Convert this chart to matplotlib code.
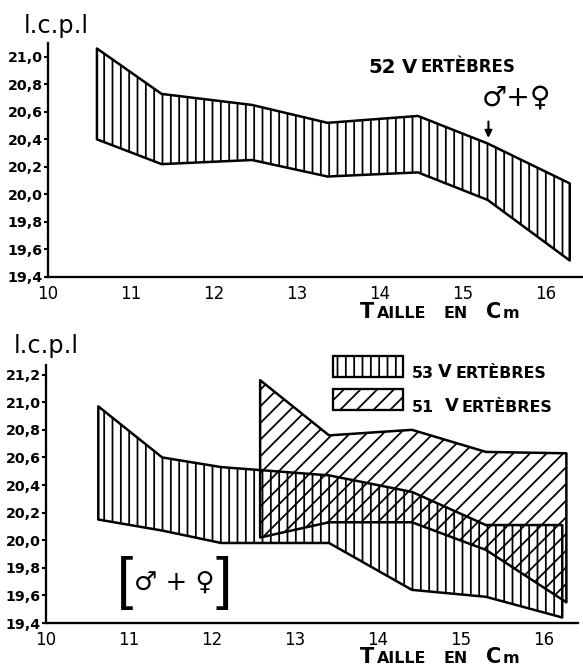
import matplotlib
matplotlib.use("Agg")
import matplotlib.pyplot as plt
from matplotlib.patches import Rectangle

# =====================================================
# Données
# =====================================================
TAILLE_52 = [10.59, 11.37, 12.46, 13.37, 14.46, 15.30, 16.29]
LCPL_52_MAX = [21.06, 20.73, 20.65, 20.52, 20.57, 20.37, 20.08]
LCPL_52_MIN = [20.40, 20.22, 20.25, 20.13, 20.16, 19.96, 19.52]

TAILLE_53 = [10.63, 11.40, 12.11, 13.41, 14.41, 15.30, 16.22]
LCPL_53_MAX = [20.97, 20.60, 20.53, 20.47, 20.35, 20.11, 20.11]
LCPL_53_MIN = [20.15, 20.07, 19.98, 19.98, 19.64, 19.59, 19.44]

TAILLE_51 = [12.58, 13.41, 14.41, 15.30, 16.27]
LCPL_51_MAX = [21.16, 20.76, 20.80, 20.64, 20.63]
LCPL_51_MIN = [20.02, 20.13, 20.13, 19.93, 19.55]

X_TICKS = [10, 11, 12, 13, 14, 15, 16]
X_LABELS = ["10", "11", "12", "13", "14", "15", "16"]

Y_TICKS_HAUT = [19.4, 19.6, 19.8, 20.0, 20.2, 20.4, 20.6, 20.8, 21.0]
Y_LABELS_HAUT = ["19,4", "19,6", "19,8", "20,0", "20,2", "20,4", "20,6", "20,8", "21,0"]
Y_TICKS_BAS = [19.4, 19.6, 19.8, 20.0, 20.2, 20.4, 20.6, 20.8, 21.0, 21.2]
Y_LABELS_BAS = ["19,4", "19,6", "19,8", "20,0", "20,2", "20,4", "20,6", "20,8", "21,0", "21,2"]

# =====================================================
# Mise en page (pixels de l'image 583x667)
# =====================================================
W, H = 583, 667
DPI = 150

plt.rcParams["font.family"] = ["DejaVu Sans"]
plt.rcParams["hatch.linewidth"] = 0.85


def fx(x):
    return x / W


def fy(y):
    return 1 - y / H


def petites_caps(ax, x, y, morceaux, gros, petit):
    # morceaux: (texte, majuscule, ecart en points avant)
    prev = None
    prev_size = None
    for texte, maj, ecart in morceaux:
        size = gros if maj else petit
        if prev is None:
            prev = ax.annotate(texte, xy=(fx(x), fy(y)), xycoords="figure fraction",
                               fontsize=size, fontweight="bold", ha="left",
                               va="baseline", annotation_clip=False)
        else:
            dy = 0.236 * (prev_size - size)
            prev = ax.annotate(texte, xy=(1, 0), xycoords=prev,
                               xytext=(ecart, dy), textcoords="offset points",
                               fontsize=size, fontweight="bold", ha="left",
                               va="bottom", annotation_clip=False)
        prev_size = size


def style_axe(ax, xlim, ylim, yticks, ylabels):
    ax.set_xlim(*xlim)
    ax.set_ylim(*ylim)
    ax.spines["top"].set_visible(False)
    ax.spines["right"].set_visible(False)
    ax.spines["left"].set_linewidth(1.1)
    ax.spines["bottom"].set_linewidth(1.1)
    ax.set_xticks(X_TICKS, X_LABELS)
    ax.set_yticks(yticks, ylabels)
    ax.tick_params(axis="x", length=0, pad=4, labelsize=8)
    ax.tick_params(axis="y", length=2, width=1, pad=0.5, labelsize=6.8)
    for lab in ax.get_yticklabels():
        lab.set_fontweight("bold")


fig = plt.figure(figsize=(W / DPI, H / DPI), dpi=DPI)

# =====================================================
# Graphique du haut : 52 vertèbres
# =====================================================
ax1 = fig.add_axes([fx(48), fy(277), 535 / W, 234 / H])
style_axe(ax1, (10, 16.45), (19.4, 21.10), Y_TICKS_HAUT, Y_LABELS_HAUT)

ax1.fill_between(TAILLE_52, LCPL_52_MIN, LCPL_52_MAX, facecolor="none",
                 edgecolor="black", hatch="|||", linewidth=1.2)

ax1.annotate("", xy=(15.31, 20.38), xytext=(15.31, 20.56),
             arrowprops=dict(arrowstyle="-|>", color="black", lw=1.0,
                             mutation_scale=7))

fig.text(fx(24), fy(33), "l.c.p.l", fontsize=11.5, ha="left", va="baseline")
petites_caps(ax1, 368, 73, [("52", True, 0), ("V", True, 3), ("ERTÈBRES", False, 1.5)], 9.5, 8)
fig.text(fx(517), fy(97), "♂+♀", fontsize=13.5, ha="center", va="center")
petites_caps(ax1, 360, 318, [("T", True, 0), ("AILLE", False, 1.5), ("EN", False, 8),
                             ("C", True, 9), ("m", False, 0.5)], 10, 7.6)

# =====================================================
# Graphique du bas : 53 et 51 vertèbres
# =====================================================
ax2 = fig.add_axes([fx(46), fy(623), 532 / W, 258 / H])
style_axe(ax2, (10, 16.41), (19.4, 21.27), Y_TICKS_BAS, Y_LABELS_BAS)

ax2.fill_between(TAILLE_53, LCPL_53_MIN, LCPL_53_MAX, facecolor="none",
                 edgecolor="black", hatch="|||", linewidth=1.2)
ax2.fill_between(TAILLE_51, LCPL_51_MIN, LCPL_51_MAX, facecolor="none",
                 edgecolor="black", hatch="///", linewidth=1.2)

fig.text(fx(14), fy(353), "l.c.p.l", fontsize=11.5, ha="left", va="baseline")

# légende
for y0, motif in [(377, "|||"), (410, "///")]:
    fig.add_artist(Rectangle((fx(333), fy(y0)), 70 / W, 21 / H,
                             transform=fig.transFigure, facecolor="none",
                             edgecolor="black", hatch=motif, linewidth=1.1))
petites_caps(ax2, 412, 378, [("53", False, 0), ("V", True, 2), ("ERTÈBRES", False, 1.5)], 8.5, 7.6)
petites_caps(ax2, 412, 412, [("51", False, 0), ("V", True, 5), ("ERTÈBRES", False, 1.5)], 8.5, 7.6)

# [♂ + ♀]
fig.text(fx(133), fy(583), "[", fontsize=28, family="Liberation Sans",
         ha="right", va="center")
fig.text(fx(174), fy(583), "♂ + ♀", fontsize=12.5, ha="center", va="center")
fig.text(fx(215), fy(583), "]", fontsize=28, family="Liberation Sans",
         ha="left", va="center")

petites_caps(ax2, 360, 663, [("T", True, 0), ("AILLE", False, 1.5), ("EN", False, 8),
                             ("C", True, 9), ("m", False, 0.5)], 10, 7.6)

fig.savefig("out.png", dpi=DPI)
plt.close(fig)
